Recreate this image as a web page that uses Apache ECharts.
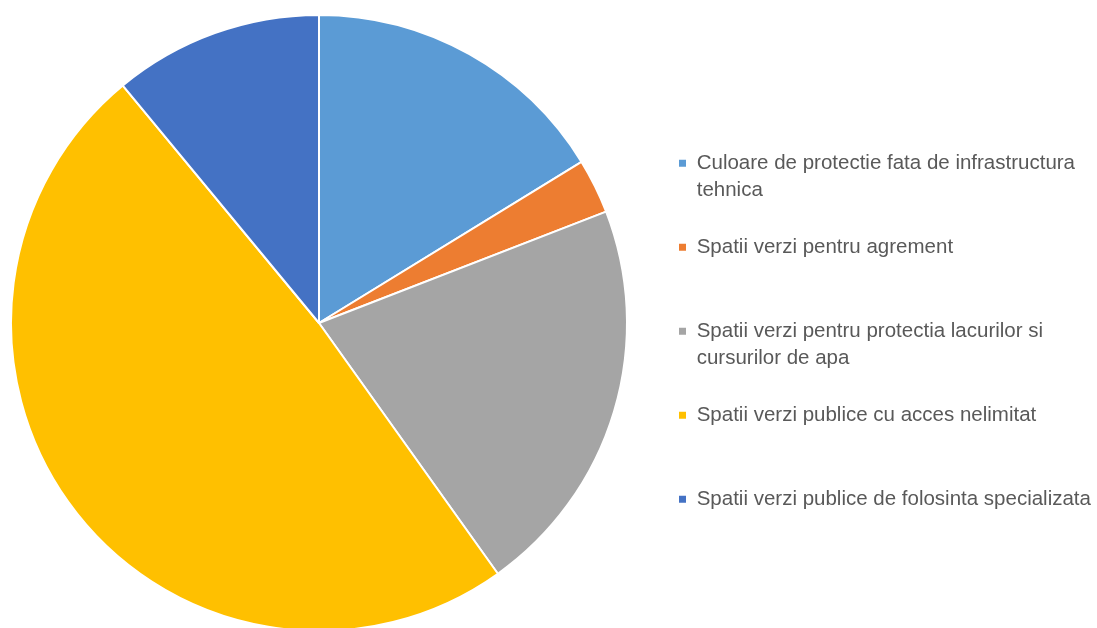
<!DOCTYPE html>
<html><head><meta charset="utf-8">
<script src="https://cdn.jsdelivr.net/npm/echarts@6/dist/echarts.min.js"></script>
<style>html,body{margin:0;padding:0;background:#fff}#c{width:1097px;height:628px}</style>
</head><body><div id="c"></div>
<script>
var categories = [
  "Culoare de protectie fata de infrastructura tehnica",
  "Spatii verzi pentru agrement",
  "Spatii verzi pentru protectia lacurilor si cursurilor de apa",
  "Spatii verzi publice cu acces nelimitat",
  "Spatii verzi publice de folosinta specializata"
];
var values = [16.24, 2.87, 21.03, 48.88, 10.99];
var colors = ["#5B9BD5", "#ED7D31", "#A5A5A5", "#FFC000", "#4472C4"];
var legendLines = {
  "Culoare de protectie fata de infrastructura tehnica": ["Culoare de protectie fata de infrastructura", "tehnica"],
  "Spatii verzi pentru protectia lacurilor si cursurilor de apa": ["Spatii verzi pentru protectia lacurilor si", "cursurilor de apa"]
};

var chart = echarts.init(document.getElementById('c'), null, {renderer: 'canvas'});
chart.setOption({
  animation: false,
  color: colors,
  legend: {
    orient: 'vertical',
    left: 679,
    top: 122,
    padding: 0,
    itemGap: 1.5,
    icon: 'rect',
    itemWidth: 7,
    itemHeight: 7,
    itemStyle: {borderWidth: 0},
    data: categories,
    formatter: function (name) {
      var l = legendLines[name] || [name];
      return ' \n ' + l[0] + '\n ' + (l[1] || '');
    },
    textStyle: {
      fontFamily: 'Liberation Sans',
      fontSize: 20.5,
      color: '#595959',
      lineHeight: 27.5
    }
  },
  series: [{
    type: 'pie',
    center: [319, 323],
    radius: [0, 308],
    startAngle: 90,
    clockwise: true,
    label: {show: false},
    labelLine: {show: false},
    itemStyle: {borderColor: '#fff', borderWidth: 2},
    data: categories.map(function (c, i) { return {name: c, value: values[i]}; })
  }]
});
</script></body></html>
